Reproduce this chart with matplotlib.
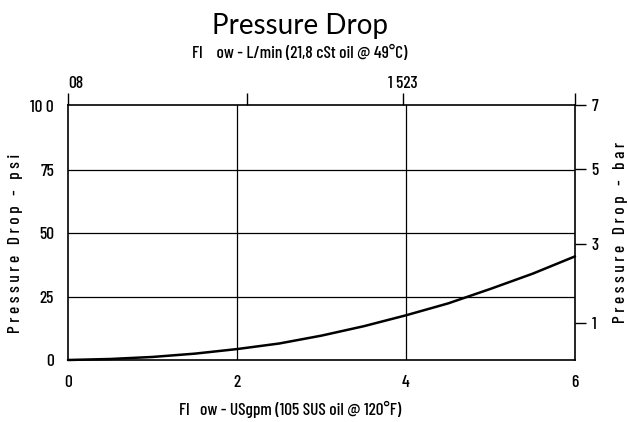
import matplotlib
matplotlib.use("Agg")
import matplotlib.pyplot as plt
from matplotlib import font_manager as fm

# data
flow_gpm = [0, 0.5, 1, 1.5, 2, 2.5, 3, 3.5, 4, 4.5, 5, 5.5, 6]
drop_psi = [0, 0.4, 1.2, 2.5, 4.3, 6.5, 9.6, 13.3, 17.6, 22.3, 28.0, 34.0, 40.8]
x_ticks = [0, 2, 4, 6]
psi_ticks = [0, 25, 50, 75, 100]
psi_tick_labels = ["0", "25", "50", "75", "10 0"]
lpm_ticks = [0, 8, 15, 22.7]
lpm_tick_labels = ["08", "", "1 523", ""]
bar_tick_psi = [14.5, 45.5, 75.3, 100.4]
bar_tick_labels = ["1", "3", "5", "7"]

fam = ["Barlow Condensed", "Archivo Narrow", "DejaVu Sans"]
fp = fm.FontProperties(family=fam, size=12.5, weight="medium")

fig = plt.figure(figsize=(6.28, 4.22), dpi=100)
ax = fig.add_axes([68/628, 1-360/422, (575-68)/628, (360-105)/422])
ax.plot(flow_gpm, drop_psi, color="black", lw=1.8, solid_capstyle="round", zorder=3, clip_on=False)
ax.set_xlim(0, 6)
ax.set_ylim(0, 100.4)
ax.set_xticks(x_ticks)
ax.set_xticklabels([str(v) for v in x_ticks], fontproperties=fp)
ax.set_yticks(psi_ticks)
ax.set_yticklabels(psi_tick_labels, fontproperties=fp)
ax.tick_params(axis="x", length=0, pad=11)
ax.tick_params(axis="y", length=0, pad=10)
for y in [25, 50, 75]:
    ax.axhline(y, color="black", lw=0.9, zorder=1)
for x in [2, 4]:
    ax.axvline(x, color="black", lw=0.9, zorder=1)
for s in ax.spines.values():
    s.set_linewidth(1.2)

axt = ax.twiny()
axt.set_xlim(0, 6 * 3.785)
axt.set_xticks(lpm_ticks)
axt.set_xticklabels(lpm_tick_labels, fontproperties=fp)
axt.tick_params(axis="x", direction="out", length=9, width=1.0, pad=1)
for lab in axt.get_xticklabels():
    if lab.get_text() == "08":
        lab.set_ha("left")
    if lab.get_text() == "1 523":
        lab.set_x(15.2)
for s in axt.spines.values():
    s.set_visible(False)

axr = ax.twinx()
axr.set_ylim(0, 100.4)
axr.set_yticks(bar_tick_psi)
axr.set_yticklabels(bar_tick_labels, fontproperties=fp)
axr.tick_params(axis="y", direction="out", length=8, width=1.0, pad=4)
for s in axr.spines.values():
    s.set_visible(False)

fig.text(16/628, 1-243/422, "P r e s s u r e   D r o p   -   p s i", rotation=90, ha="center", va="center", fontproperties=fp)
fig.text(620/628, 1-232/422, "P r e s s u r e   D r o p   -   b a r", rotation=90, ha="center", va="center", fontproperties=fp)
fig.text(290/628, 1-409/422, "Fl   ow - USgpm (105 SUS oil @ 120°F)", ha="center", va="center", fontproperties=fp)
fig.text(0.478, 1-26/422, "Pressure Drop", ha="center", va="center", fontsize=20, family=["Lato", "DejaVu Sans"])
fig.text(0.478, 1-53/422, "Fl    ow - L/min (21,8 cSt oil @ 49°C)", ha="center", va="center", fontproperties=fp)

fig.savefig("out.png", dpi=100, facecolor="white")
